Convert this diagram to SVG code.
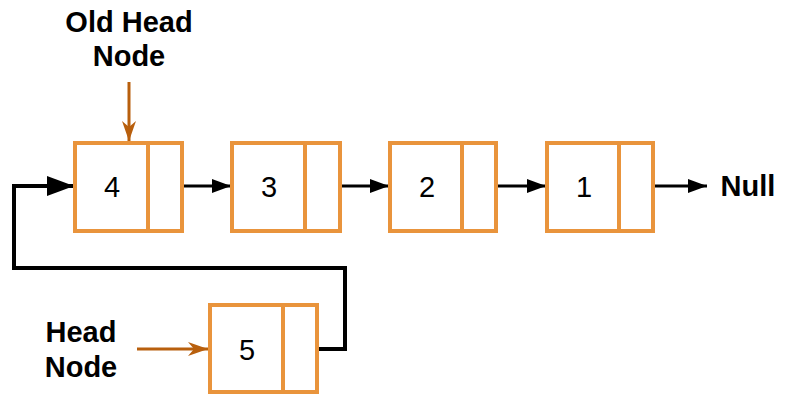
<svg xmlns="http://www.w3.org/2000/svg" width="786" height="411" viewBox="0 0 786 411">
<style>
.box{fill:#fff;stroke:#E9943C;stroke-width:4}
.div{stroke:#E9943C;stroke-width:4}
.num{font-family:"Liberation Sans",Arial,sans-serif;font-size:29px;fill:#000;text-anchor:middle}
.lbl{font-family:"Liberation Sans",Arial,sans-serif;font-size:29px;font-weight:bold;fill:#000;text-anchor:middle}
.lnk{fill:none;stroke:#000;stroke-width:3}
.loop{fill:none;stroke:#000;stroke-width:4}
.ptr{fill:none;stroke:#B85F0D;stroke-width:3}
</style>
<defs>
<marker id="ah" markerUnits="userSpaceOnUse" markerWidth="20" markerHeight="16" refX="19" refY="8" orient="auto">
<path d="M0,1 L19,8 L0,15 Z" fill="#000"/>
</marker>
<marker id="ahBig" markerUnits="userSpaceOnUse" markerWidth="28" markerHeight="22" refX="27" refY="11" orient="auto">
<path d="M0,1 L27,11 L0,21 Z" fill="#000"/>
</marker>
<marker id="ahOpen" markerUnits="userSpaceOnUse" markerWidth="22" markerHeight="18" refX="20" refY="9" orient="auto">
<path d="M0,2 L20,9 L0,16 L6,9 Z" fill="#B85F0D"/>
</marker>
</defs>
<g id="connectors">
<line class="lnk" x1="183" y1="186" x2="231" y2="186" marker-end="url(#ah)"/>
<line class="lnk" x1="341" y1="186" x2="389" y2="186" marker-end="url(#ah)"/>
<line class="lnk" x1="497" y1="186" x2="546" y2="186" marker-end="url(#ah)"/>
<line class="lnk" x1="654" y1="186" x2="707" y2="186" marker-end="url(#ah)"/>
<polyline class="loop" points="318,349 345,349 345,268 14,268 14,186 74,186" marker-end="url(#ahBig)"/>
<line class="ptr" x1="129" y1="82" x2="129" y2="141" marker-end="url(#ahOpen)"/>
<line class="ptr" x1="137" y1="349" x2="208" y2="349" marker-end="url(#ahOpen)"/>
</g>
<g id="node4">
<rect class="box" x="75" y="143" width="107" height="88"/>
<line class="div" x1="148" y1="143" x2="148" y2="231"/>
<text class="num" x="112" y="197">4</text>
</g>
<g id="node3">
<rect class="box" x="232" y="143" width="108" height="88"/>
<line class="div" x1="305" y1="143" x2="305" y2="231"/>
<text class="num" x="269" y="197">3</text>
</g>
<g id="node2">
<rect class="box" x="390" y="143" width="106" height="88"/>
<line class="div" x1="462" y1="143" x2="462" y2="231"/>
<text class="num" x="427" y="197">2</text>
</g>
<g id="node1">
<rect class="box" x="547" y="143" width="106" height="88"/>
<line class="div" x1="619" y1="143" x2="619" y2="231"/>
<text class="num" x="584" y="197">1</text>
</g>
<g id="node5">
<rect class="box" x="210" y="305" width="107" height="87"/>
<line class="div" x1="283" y1="305" x2="283" y2="392"/>
<text class="num" x="247" y="360">5</text>
</g>
<g id="null">
<text class="lbl" x="748" y="196">Null</text>
</g>
<g id="oldhead">
<text class="lbl" x="129" y="32">Old Head</text>
<text class="lbl" x="129" y="66">Node</text>
</g>
<g id="head">
<text class="lbl" x="81" y="342">Head</text>
<text class="lbl" x="81" y="377">Node</text>
</g>
</svg>
